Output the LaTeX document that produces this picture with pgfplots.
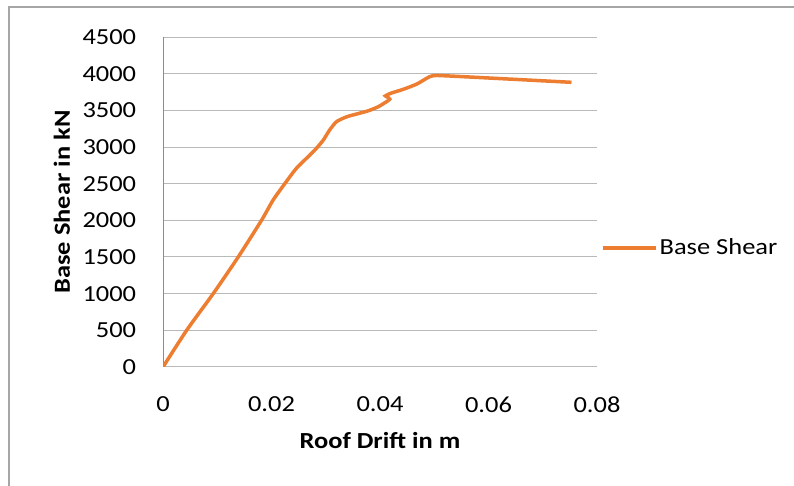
\documentclass[border=0pt]{standalone}
\usepackage{pgfplots}
\pgfplotsset{compat=1.18}
\usepackage{fontspec}
\setmainfont{Carlito}[FakeStretch=1.15]
\definecolor{lineorange}{HTML}{ED7D31}
\definecolor{gridgray}{HTML}{B9B9B9}
\definecolor{axisgray}{HTML}{8C8C8C}
\definecolor{framegray}{HTML}{A6A6A6}

\begin{document}
\fontsize{23bp}{27bp}\selectfont
\begin{tikzpicture}
% outer chart frame
\draw[framegray, line width=1.3bp] (9bp,-10bp) -- (9bp,479bp) -- (810bp,479bp);
\begin{axis}[
  at={(163bp,119bp)}, anchor=south west,
  scale only axis, width=434bp, height=330bp,
  xmin=0, xmax=0.08, ymin=0, ymax=4500,
  xtick={0,0.02,0.04,0.06,0.08},
  xticklabels={0,0.02,0.04,0.06,0.08},
  scaled x ticks=false,
  ytick={0,500,...,4500},
  /pgf/number format/assume math mode=true,
  /pgf/number format/set thousands separator={},
  axis lines*=left,
  x axis line style={gridgray, line width=1bp},
  y axis line style={axisgray, line width=1bp},
  major tick length=0pt,
  ymajorgrids, grid style={gridgray, line width=1bp},
  yticklabel style={xshift=-19bp},
  xticklabel style={yshift=-22bp},
  tick label style={font=\fontsize{23bp}{27bp}\selectfont},
  xlabel={\bfseries Roof Drift in m},
  ylabel={\bfseries Base Shear in kN},
  every axis x label/.style={at={(axis description cs:0.5,-0.2242)}, anchor=center,
    font=\fontsize{23bp}{27bp}\selectfont},
  every axis y label/.style={at={(axis description cs:-0.2327,0.5)}, rotate=90, anchor=center,
    font=\fontsize{23bp}{27bp}\selectfont},
  legend style={at={(axis description cs:1.0,0.36)}, anchor=west, draw=none, fill=none,
    font=\fontsize{23bp}{27bp}\selectfont, inner xsep=2bp, xshift=2bp},
  legend cell align=left,
  legend image code/.code={\draw[#1] (0bp,0bp) -- (53bp,0bp);},
]
\addplot[lineorange, line width=3.5bp, smooth, tension=0.4] coordinates {
  (0,0) (0.0044,505) (0.0093,1005) (0.0139,1504) (0.0182,2005)
  (0.0203,2277) (0.0225,2505) (0.0246,2710) (0.0274,2914) (0.0285,3000)
  (0.0296,3100) (0.0307,3230) (0.0320,3346) (0.0339,3413) (0.0357,3450)
  (0.0379,3495) (0.0397,3550) (0.0412,3618) (0.0418,3652) (0.0414,3680)
  (0.0410,3697) (0.0420,3733) (0.0443,3787) (0.0468,3859) (0.0486,3937)
  (0.0498,3973) (0.0529,3968) (0.0753,3882)
};
\addlegendentry{Base Shear}
\end{axis}
\pgfresetboundingbox
\path[use as bounding box] (0,0) rectangle (794bp,486bp);
\end{tikzpicture}
\end{document}
